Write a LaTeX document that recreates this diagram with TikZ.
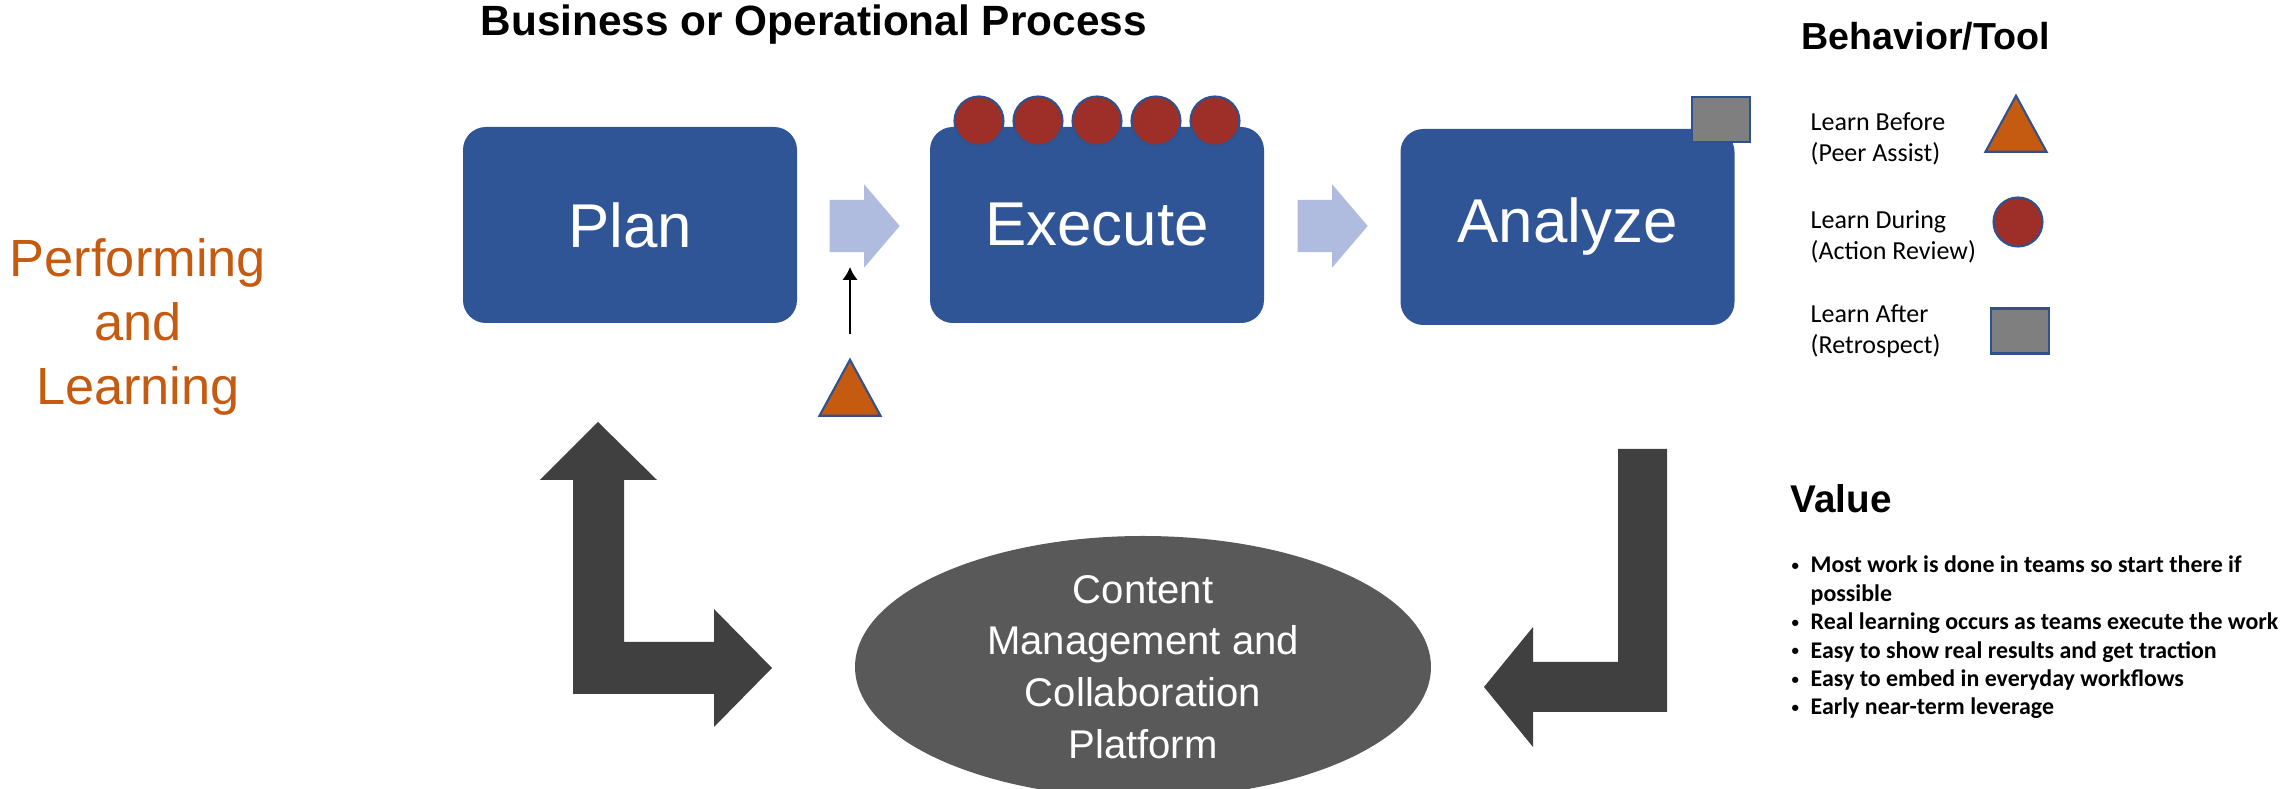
\documentclass[tikz,border=0pt]{standalone}
\usepackage{fontspec}
\setmainfont{Liberation Sans}
\newfontfamily\calibri{Carlito}
\usepackage{xcolor}
\usepackage{tikz}
\usetikzlibrary{positioning,shapes.geometric,shapes.arrows,arrows.meta}

\definecolor{boxblue}{RGB}{47,85,151}
\definecolor{lineblue}{RGB}{47,82,143}
\definecolor{paleblue}{RGB}{175,188,224}
\definecolor{dotred}{RGB}{158,46,40}
\definecolor{tiporange}{RGB}{197,90,17}
\definecolor{darkarrow}{RGB}{64,64,64}
\definecolor{platgray}{RGB}{89,89,89}
\definecolor{markgray}{RGB}{127,127,127}

\newcommand{\valbullet}{\makebox[0.19cm][l]{\raisebox{0.2ex}{\scalebox{0.62}{\textbullet}}}}

\begin{document}
\begin{tikzpicture}

\tikzstyle{phase}=[rectangle, rounded corners=6.5pt, fill=boxblue, text=white, minimum width=3.34cm, minimum height=1.96cm, font=\fontsize{17.6}{21}\selectfont]
\tikzstyle{flow}=[single arrow, fill=paleblue, inner xsep=0pt, inner ysep=0.255cm, single arrow head extend=0.155cm, single arrow tip angle=99, minimum height=0.70cm, anchor=tail]
\tikzstyle{during}=[circle, fill=dotred, draw=lineblue, line width=0.6pt, minimum size=0.49cm, inner sep=0pt]
\tikzstyle{before}=[isosceles triangle, isosceles triangle stretches, shape border rotate=90, fill=tiporange, draw=lineblue, line width=0.6pt, minimum width=0.61cm, minimum height=0.56cm, inner sep=0pt, anchor=apex]
\tikzstyle{after}=[rectangle, fill=markgray, draw=lineblue, line width=0.6pt, minimum width=0.58cm, minimum height=0.45cm, inner sep=0pt]
\tikzstyle{platform}=[ellipse, fill=platgray, text=white, align=center, minimum width=5.76cm, minimum height=2.62cm, inner sep=0pt, font=\fontsize{11.4}{14.7}\selectfont]
\tikzstyle{bigarrow}=[fill=darkarrow]
\tikzstyle{heading}=[anchor=base west, inner sep=0pt, font=\bfseries\fontsize{12.05}{14}\selectfont]
\tikzstyle{legend}=[anchor=base west, inner sep=0pt, align=left, font=\calibri\fontsize{7.4}{9.1}\selectfont]
\tikzstyle{pointer}=[-{Latex[length=3.7pt,width=4.5pt]}, line width=0.85pt]

\useasboundingbox (0,0) rectangle (22.85,-7.89);

% titles
\node[heading] (title) at (4.80,-0.36) {Business or Operational Process};
\node[heading, font=\bfseries\fontsize{10.7}{13}\selectfont] (behav) at (18.01,-0.50) {Behavior/Tool};
\node[heading, font=\bfseries\fontsize{11}{13}\selectfont] (value) at (17.90,-5.13) {Value};
\node[align=center, text=tiporange, font=\fontsize{14.9}{18.1}\selectfont] (perf) at (1.38,-3.27) {Performing\\and\\Learning};

% process boxes
\node[phase] (plan) at (6.30,-2.25) {Plan};
\node[phase] (execute) at (10.97,-2.25) {Execute};
\node[phase] (analyze) at (15.675,-2.27) {Analyze};

\node[flow] (step1) at (8.29,-2.26) {};
\node[flow] (step2) at (12.97,-2.26) {};

% tools on the process
\foreach \i in {0,...,4}
  \node[during] (dot\i) at ({9.79+0.59*\i},-1.21) {};
\node[after] (retro) at (17.21,-1.195) {};
\node[before] (peer) at (8.50,-3.57) {};
\draw[pointer] (peer.apex) ++(0,0.23) -- ++(0,0.67);

% platform and return arrows
\node[platform] (cms) at (11.43,-6.67) {Content\\Management and\\Collaboration\\Platform};

\fill[bigarrow] (5.98,-4.22) -- (6.57,-4.80) -- (6.24,-4.80) -- (6.24,-6.42) -- (7.14,-6.42) -- (7.14,-6.09) -- (7.72,-6.68) -- (7.14,-7.27) -- (7.14,-6.94) -- (5.73,-6.94) -- (5.73,-4.80) -- (5.40,-4.80) -- cycle;
\fill[bigarrow] (16.18,-4.49) -- (16.67,-4.49) -- (16.67,-7.12) -- (15.33,-7.12) -- (15.33,-7.47) -- (14.84,-6.87) -- (15.33,-6.27) -- (15.33,-6.62) -- (16.18,-6.62) -- cycle;

% legend
\node[legend] (lbefore) at (18.10,-1.62) {Learn Before\\(Peer Assist)};
\node[legend] (lduring) at (18.10,-2.60) {Learn During\\(Action Review)};
\node[legend] (lafter) at (18.10,-3.54) {Learn After\\(Retrospect)};
\node[before] (keybefore) at (20.16,-0.93) {};
\node[during] (keyduring) at (20.18,-2.22) {};
\node[after] (keyafter) at (20.20,-3.31) {};

% value list
\node[anchor=north west, inner sep=0pt, font=\calibri\bfseries\fontsize{6.8}{8.1}\selectfont] (gains) at (17.91,-5.52) {%
\begin{tabular}{@{}l@{}l@{}}
\valbullet & Most work is done in teams so start there if\\
 & possible\\
\valbullet & Real learning occurs as teams execute the work\\
\valbullet & Easy to show real results and get traction\\
\valbullet & Easy to embed in everyday workflows\\
\valbullet & Early near-term leverage
\end{tabular}};

\end{tikzpicture}
\end{document}
